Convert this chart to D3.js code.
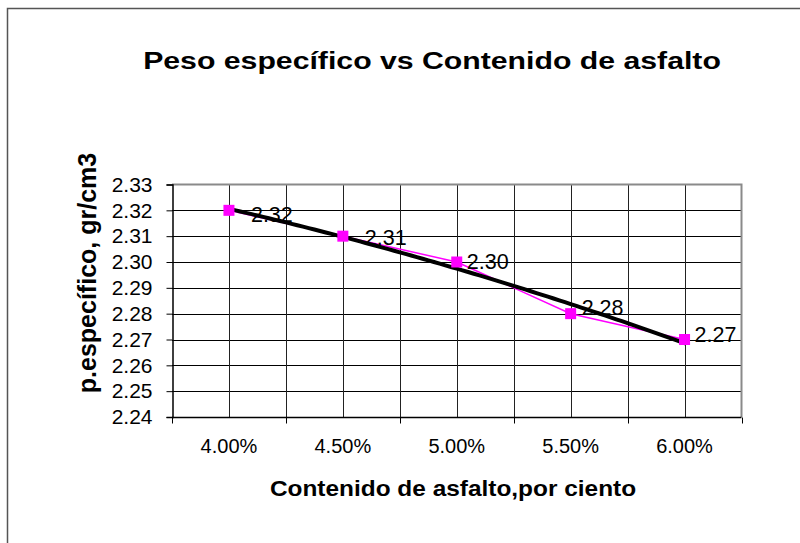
<!DOCTYPE html>
<html>
<head>
<meta charset="utf-8">
<script src="https://cdn.jsdelivr.net/npm/d3@7"></script>
<style>
  html, body { margin: 0; padding: 0; background: #fff; }
  svg { display: block; font-family: Arial, "Liberation Sans", sans-serif; }
</style>
</head>
<body>
<script>
// Asphalt content (category labels) and measured specific gravity
const categories = ["4.00%", "4.50%", "5.00%", "5.50%", "6.00%"];
const pesoEspecifico = [2.32, 2.31, 2.30, 2.28, 2.27];
const yTicks = [2.24, 2.25, 2.26, 2.27, 2.28, 2.29, 2.30, 2.31, 2.32, 2.33];

const chartTitle = "Peso específico vs Contenido de asfalto";
const xTitle = "Contenido de asfalto,por ciento";
const yTitle = "p.específico, gr/cm3";

const W = 800, H = 543;
const plot = { left: 172, right: 741.5, top: 184.5, bottom: 417 };

const svg = d3.select("body").append("svg")
  .attr("width", W).attr("height", H);

// chart frame
svg.append("rect")
  .attr("x", 7.5).attr("y", 8.5)
  .attr("width", 840).attr("height", 580)
  .attr("fill", "#fff")
  .attr("stroke", "#555").attr("stroke-width", 1.5);

const x = d3.scaleBand().domain(categories)
  .range([plot.left, plot.right]).padding(0);
const cx = c => x(c) + x.bandwidth() / 2;
const y = d3.scaleLinear().domain([2.24, 2.33]).range([plot.bottom, plot.top]);

const g = svg.append("g");

// horizontal gridlines
g.selectAll("line.hgrid").data(yTicks.slice(1, -1)).join("line")
  .attr("class", "hgrid")
  .attr("x1", plot.left).attr("x2", plot.right)
  .attr("y1", d => Math.round(y(d)) + 0.5).attr("y2", d => Math.round(y(d)) + 0.5)
  .attr("stroke", "#000").attr("stroke-width", 1);

// vertical gridlines at category centres and boundaries
const vPos = [];
categories.forEach((c, i) => {
  if (i > 0) vPos.push(x(c));
  vPos.push(cx(c));
});
g.selectAll("line.vgrid").data(vPos).join("line")
  .attr("class", "vgrid")
  .attr("x1", d => Math.round(d) + 0.5).attr("x2", d => Math.round(d) + 0.5)
  .attr("y1", plot.top).attr("y2", plot.bottom)
  .attr("stroke", "#222").attr("stroke-width", 1);

// plot area border (top / right)
g.append("path")
  .attr("d", `M${plot.left},${plot.top}H${plot.right}V${plot.bottom}`)
  .attr("fill", "none").attr("stroke", "#8a8a8a").attr("stroke-width", 2);

// y axis
const yAxis = d3.axisLeft(y).tickValues(yTicks)
  .tickFormat(d3.format(".2f")).tickSize(6).tickPadding(14);
const ya = svg.append("g").attr("transform", `translate(${plot.left + 0.5},0)`).call(yAxis);
ya.select(".domain").attr("stroke", "#000").attr("stroke-width", 1.5);
ya.selectAll(".tick line").attr("stroke", "#000");
ya.selectAll(".tick text").attr("font-size", 21).attr("fill", "#000")
  .attr("font-family", "Arial, 'Liberation Sans', sans-serif");

// x axis: ticks sit on the category boundaries
const xa = svg.append("g").attr("transform", `translate(0,${plot.bottom + 0.5})`);
xa.append("line").attr("x1", plot.left).attr("x2", plot.right)
  .attr("y1", 0).attr("y2", 0).attr("stroke", "#000").attr("stroke-width", 1.5);
const bounds = categories.map(c => x(c)).concat([plot.right]);
xa.selectAll("line.tk").data(bounds).join("line")
  .attr("class", "tk")
  .attr("x1", d => Math.round(d) + 0.5).attr("x2", d => Math.round(d) + 0.5)
  .attr("y1", 0).attr("y2", 6).attr("stroke", "#000");
xa.selectAll("text").data(categories).join("text")
  .attr("x", d => cx(d)).attr("y", 35)
  .attr("text-anchor", "middle").attr("font-size", 20).attr("fill", "#000")
  .text(d => d);

// second-order polynomial trend line (least squares on category index)
const xs = categories.map((c, i) => i + 1);
function polyFit2(X, Y) {
  let S = [[0,0,0],[0,0,0],[0,0,0]], T = [0,0,0];
  X.forEach((xi, k) => {
    const p = [1, xi, xi * xi];
    for (let r = 0; r < 3; r++) {
      T[r] += p[r] * Y[k];
      for (let c = 0; c < 3; c++) S[r][c] += p[r] * p[c];
    }
  });
  const A = S.map((row, r) => row.concat([T[r]]));
  for (let i = 0; i < 3; i++) {
    for (let j = i + 1; j < 3; j++) {
      const f = A[j][i] / A[i][i];
      for (let k = i; k < 4; k++) A[j][k] -= f * A[i][k];
    }
  }
  const b = [0, 0, 0];
  for (let i = 2; i >= 0; i--) {
    let s = A[i][3];
    for (let k = i + 1; k < 3; k++) s -= A[i][k] * b[k];
    b[i] = s / A[i][i];
  }
  return b;
}
const coef = polyFit2(xs, pesoEspecifico);
const idxToX = d3.scaleLinear().domain([1, categories.length])
  .range([cx(categories[0]), cx(categories[categories.length - 1])]);
const trend = d3.range(1, categories.length + 0.001, 0.05)
  .map(t => [idxToX(t), y(coef[0] + coef[1] * t + coef[2] * t * t)]);

// data series
const pts = categories.map((c, i) => [cx(c), y(pesoEspecifico[i])]);
svg.append("path").datum(pts)
  .attr("d", d3.line())
  .attr("fill", "none").attr("stroke", "#ff00ff").attr("stroke-width", 1.5);

svg.append("path").datum(trend)
  .attr("d", d3.line())
  .attr("fill", "none").attr("stroke", "#000").attr("stroke-width", 4)
  .attr("stroke-linecap", "round");

svg.selectAll("rect.mk").data(pts).join("rect")
  .attr("class", "mk")
  .attr("x", d => d[0] - 5.5).attr("y", d => d[1] - 5.5)
  .attr("width", 11).attr("height", 11)
  .attr("fill", "#ff00ff");

// value labels (with small per-label nudges)
const nudgeX = [22, 22, 10, 11, 10];
const nudgeY = [4, 1, -1, -6, -5];
svg.selectAll("text.lbl").data(pesoEspecifico).join("text")
  .attr("class", "lbl")
  .attr("x", (d, i) => pts[i][0] + nudgeX[i])
  .attr("y", (d, i) => pts[i][1] + nudgeY[i])
  .attr("dy", "0.36em")
  .attr("font-size", 21.5).attr("fill", "#000")
  .text(d => d3.format(".2f")(d));

// titles (slightly widened lettering)
svg.append("text")
  .attr("transform", "translate(432,69) scale(1.26,1)")
  .attr("text-anchor", "middle").attr("font-size", 24).attr("font-weight", "bold")
  .text(chartTitle);

svg.append("text")
  .attr("transform", "translate(453,496) scale(1.11,1)")
  .attr("text-anchor", "middle").attr("font-size", 22).attr("font-weight", "bold")
  .text(xTitle);

svg.append("text")
  .attr("transform", `translate(96,273) rotate(-90)`)
  .attr("text-anchor", "middle").attr("font-size", 25).attr("font-weight", "bold")
  .text(yTitle);
</script>
</body>
</html>
